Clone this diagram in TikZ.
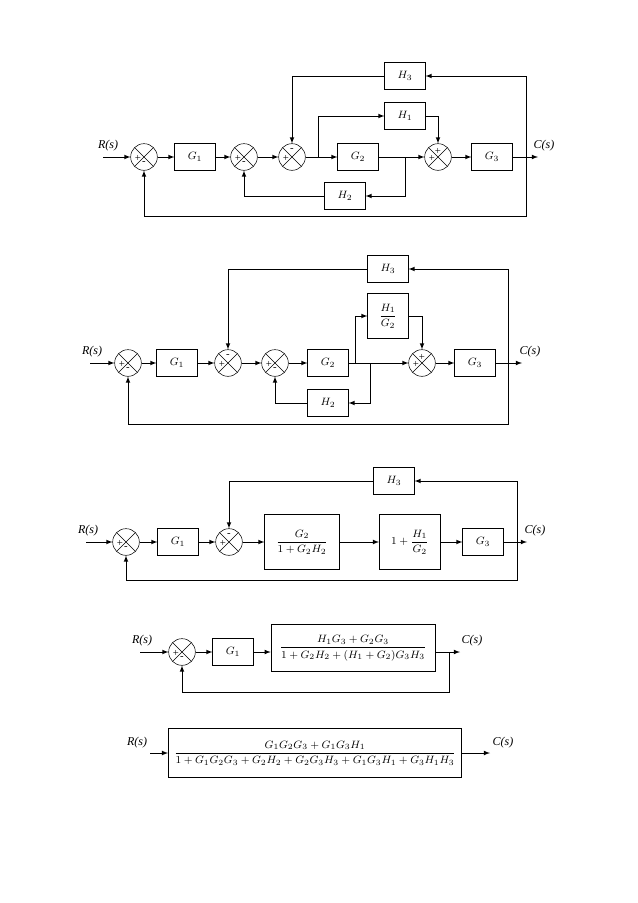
\documentclass[tikz,border=0pt]{standalone}
\usepackage{amsmath}
\usepackage{fontspec}
\setmainfont{Liberation Serif}
\usetikzlibrary{arrows}
\tikzset{
  blk/.style={draw,minimum width=30.5pt,minimum height=20pt,inner sep=1pt,font=\footnotesize},
  sum/.style={draw,circle,minimum size=20pt,inner sep=0pt,
    path picture={\draw (path picture bounding box.north west)--(path picture bounding box.south east)
      (path picture bounding box.north east)--(path picture bounding box.south west);}},
  sg/.style={font=\footnotesize,inner sep=0pt},
  lab/.style={font=\small\itshape},
  ln/.style={line width=0.6pt,-latex}
}
\newcommand{\sgn}[4]{\path (#1) ++(#2,#3) node[sg]{#4};}
\begin{document}
\begin{tikzpicture}[x=0.75pt,y=-0.75pt]
\useasboundingbox (0,0) rectangle (638,903);
% diagram 1
\coordinate (a0) at (103,157);
\node[sum] (a1) at (144,157) {};
\node[blk] (ag1) at (195,157) {$G_1$};
\node[sum] (a2) at (244,157) {};
\node[sum] (a3) at (292,157) {};
\node[blk] (ag2) at (358,157) {$G_2$};
\node[blk] (ah1) at (405,116) {$H_1$};
\node[blk] (ah2) at (345,196) {$H_2$};
\node[blk] (ah3) at (405,76) {$H_3$};
\node[sum] (a4) at (438,157) {};
\node[blk] (ag3) at (492,157) {$G_3$};
\coordinate (ao) at (538,157);
\node[lab] at (108,146) {R(s)};
\node[lab] at (544,146) {C(s)};
\sgn{a1}{-6}{1}{+}\sgn{a1}{0}{6}{-}
\sgn{a2}{-6}{1}{+}\sgn{a2}{0}{6}{-}
\sgn{a3}{-6}{1}{+}\sgn{a3}{0}{-7}{-}
\sgn{a4}{-6}{1}{+}\sgn{a4}{0}{-6}{+}
\draw[ln] (a0) -- (a1);
\draw[ln] (a1) -- (ag1);
\draw[ln] (ag1) -- (a2);
\draw[ln] (a2) -- (a3);
\draw[ln] (a3) -- (ag2);
\draw[ln] (318,157) |- (ah1);
\draw[ln] (ah1.east) -| (a4);
\draw[ln] (ag2) -- (a4);
\draw[ln] (405,157) |- (ah2);
\draw[ln] (ah2) -| (a2);
\draw[ln] (a4) -- (ag3);
\draw[ln] (ag3) -- (ao);
\draw[ln] (526,157) |- (ah3);
\draw[ln] (ah3) -| (a3);
\draw[ln] (526,157) |- (144,216) -- (a1);
% diagram 2
\coordinate (b0) at (90,363);
\node[sum] (b1) at (128,363) {};
\node[blk] (bg1) at (177,363) {$G_1$};
\node[sum] (b2) at (228,363) {};
\node[sum] (b3) at (275,363) {};
\node[blk] (bg2) at (328,363) {$G_2$};
\node[blk,minimum height=34pt] (bh1) at (388,316) {$\dfrac{H_1}{G_2}$};
\node[blk] (bh2) at (328,403) {$H_2$};
\node[blk] (bh3) at (388,269) {$H_3$};
\node[sum] (b4) at (422,363) {};
\node[blk] (bg3) at (475,363) {$G_3$};
\coordinate (bo) at (522,363);
\node[lab] at (92,352) {R(s)};
\node[lab] at (530,352) {C(s)};
\sgn{b1}{-6}{1}{+}\sgn{b1}{0}{6}{-}
\sgn{b2}{-6}{1}{+}\sgn{b2}{0}{-7}{-}
\sgn{b3}{-6}{1}{+}\sgn{b3}{0}{6}{-}
\sgn{b4}{-6}{1}{+}\sgn{b4}{0}{-6}{+}
\draw[ln] (b0) -- (b1);
\draw[ln] (b1) -- (bg1);
\draw[ln] (bg1) -- (b2);
\draw[ln] (b2) -- (b3);
\draw[ln] (b3) -- (bg2);
\draw[ln] (355,363) |- (bh1);
\draw[ln] (bh1.east) -| (b4);
\draw[ln] (bg2) -- (b4);
\draw[ln] (370,363) |- (bh2);
\draw[ln] (bh2) -| (b3);
\draw[ln] (b4) -- (bg3);
\draw[ln] (bg3) -- (bo);
\draw[ln] (508,363) |- (bh3);
\draw[ln] (bh3) -| (b2);
\draw[ln] (508,363) |- (128,424) -- (b1);
% diagram 3
\coordinate (c0) at (86,542);
\node[sum] (c1) at (126,542) {};
\node[blk] (cg1) at (178,542) {$G_1$};
\node[sum] (c2) at (229,542) {};
\node[blk,minimum width=56pt,minimum height=41pt] (ca) at (302,542) {$\dfrac{G_2}{1+G_2H_2}$};
\node[blk,minimum width=46pt,minimum height=41pt] (cb) at (410,542) {$1+\dfrac{H_1}{G_2}$};
\node[blk] (cg3) at (483,542) {$G_3$};
\node[blk] (ch3) at (394,481) {$H_3$};
\coordinate (co) at (527,542);
\node[lab] at (88,531) {R(s)};
\node[lab] at (535,531) {C(s)};
\sgn{c1}{-6}{1}{+}\sgn{c1}{0}{6}{-}
\sgn{c2}{-6}{1}{+}\sgn{c2}{0}{-7}{-}
\draw[ln] (c0) -- (c1);
\draw[ln] (c1) -- (cg1);
\draw[ln] (cg1) -- (c2);
\draw[ln] (c2) -- (ca);
\draw[ln] (ca) -- (cb);
\draw[ln] (cb) -- (cg3);
\draw[ln] (cg3) -- (co);
\draw[ln] (517,542) |- (ch3);
\draw[ln] (ch3) -| (c2);
\draw[ln] (517,542) |- (126,580) -- (c1);
% diagram 4
\coordinate (d0) at (140,652);
\node[sum] (d1) at (182,652) {};
\node[blk] (dg1) at (233,652) {$G_1$};
\node[blk,minimum width=123pt,minimum height=35pt] (da) at (353,648) {$\dfrac{H_1G_3+G_2G_3}{1+G_2H_2+(H_1+G_2)G_3H_3}$};
\coordinate (do) at (460,652);
\node[lab] at (142,641) {R(s)};
\node[lab] at (472,641) {C(s)};
\sgn{d1}{-6}{1}{+}\sgn{d1}{0}{6}{-}
\draw[ln] (d0) -- (d1);
\draw[ln] (d1) -- (dg1);
\draw[ln] (dg1) -- (da.west|-dg1);
\draw[ln] (da.east|-d1) -- (do);
\draw[ln] (449,652) |- (182,692) -- (d1);
% diagram 5
\coordinate (e0) at (150,753);
\node[blk,minimum width=220pt,minimum height=37pt] (ea) at (315,753) {$\dfrac{G_1G_2G_3+G_1G_3H_1}{1+G_1G_2G_3+G_2H_2+G_2G_3H_3+G_1G_3H_1+G_3H_1H_3}$};
\coordinate (eo) at (490,753);
\node[lab] at (137,743) {R(s)};
\node[lab] at (503,743) {C(s)};
\draw[ln] (e0) -- (ea);
\draw[ln] (ea) -- (eo);
\end{tikzpicture}
\end{document}
